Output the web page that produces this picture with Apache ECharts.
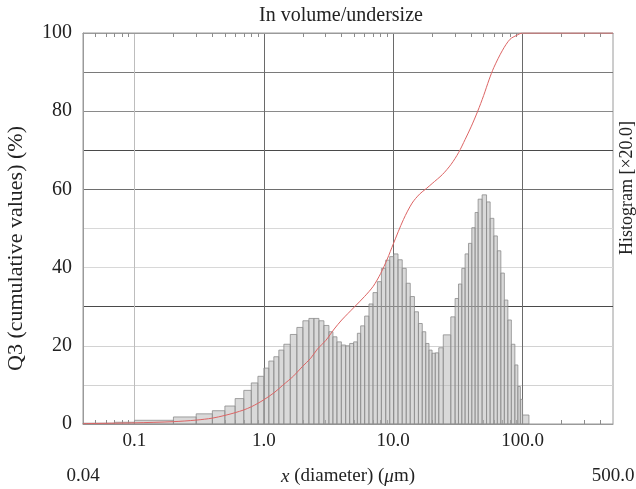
<!DOCTYPE html>
<html>
<head>
<meta charset="utf-8">
<script src="https://cdn.jsdelivr.net/npm/echarts@6/dist/echarts.min.js"></script>
<style>
    html, body { margin: 0; padding: 0; background: #fff; }
    #main { width: 636px; height: 489px; }
</style>
</head>
<body>
<div id="main"></div>
<script>
    // histogram bins (um) and heights (% on the Q3 scale)
    var binEdges = [0.04, 0.07, 0.1, 0.2, 0.3, 0.4, 0.5, 0.6, 0.7, 0.8, 0.9, 1.0,
        1.093, 1.195, 1.306, 1.428, 1.601, 1.8, 2.004, 2.23, 2.438, 2.666, 2.913, 3.185, 3.42, 3.673,
        3.973, 4.29, 4.607, 4.947, 5.284, 5.605, 6.017, 6.497, 6.979, 7.546, 8.103, 8.75, 9.395, 10.09,
        10.89, 11.74, 12.61, 13.54, 14.59, 15.67, 16.77, 17.85, 18.9, 19.97, 21.14, 22.5, 24.38, 27.87,
        30.09, 31.96, 33.9, 35.95, 38.19, 40.52, 42.97, 45.33, 48.68, 52.65, 56.14, 59.97, 63.82, 67.93,
        72.3, 76.95, 81.9, 87.18, 91.95, 96.16, 100, 112];
    var binHeights = [0.2, 0.45, 0.95, 1.8, 2.6, 3.4, 4.6, 6.5, 8.6, 10.5, 12.2,
        14.3, 16.1, 17.2, 18.9, 20.4, 22.9, 24.7, 26.4, 27.0, 27.0, 26.4, 25.2, 23.6, 22.3,
        21.0, 20.2, 20.0, 20.6, 21.0, 23.2, 25.1, 27.6, 30.7, 33.6, 36.4, 39.8, 41.9, 42.8,
        43.5, 42.0, 39.8, 36.0, 32.6, 28.7, 25.7, 23.6, 20.6, 18.9, 18.1, 18.2, 19.5, 22.8,
        27.4, 32.1, 35.8, 39.8, 43.5, 46.2, 50.2, 54.1, 57.5, 58.6, 56.8, 52.6, 48.1, 44.3,
        38.6, 31.7, 26.6, 20.4, 15.1, 9.6, 6.3, 2.3];

    // cumulative undersize curve
    var cumX = [0.04, 0.1, 0.2, 0.3, 0.4, 0.5, 0.6, 0.7, 0.8, 0.9, 1.0, 1.2, 1.4, 1.7, 2.0, 2.3, 2.6,
        3.0, 3.5, 4.0, 5.0, 6.0, 7.0, 8.0, 9.0, 10, 12, 14, 16, 18, 20, 24, 28, 32, 36, 40, 45,
        50, 55, 60, 70, 80, 90, 100, 500];
    var cumY = [0.1, 0.3, 0.6, 1.0, 1.5, 2.2, 2.9, 3.6, 4.4, 5.3, 6.2, 8.0, 9.9, 12.3, 14.8, 16.8, 19.2,
        21.3, 24.3, 26.6, 29.9, 32.6, 35.2, 38.5, 42.2, 46.0, 52.3, 56.5, 58.8, 60.2, 61.5, 63.8, 66.4,
        69.4, 72.8, 76.0, 80.0, 84.0, 88.0, 91.2, 95.6, 98.4, 99.4, 100, 100];

    // axis ticks
    var majorTicks = [0.1, 1, 10, 100];
    var minorTicks = [0.05, 0.06, 0.07, 0.08, 0.09, 0.2, 0.3, 0.4, 0.5, 0.6, 0.7, 0.8, 0.9,
        2, 3, 4, 5, 6, 7, 8, 9, 20, 30, 40, 50, 60, 70, 80, 90, 200, 300, 400];
    var endTicks = [0.04, 500];

    var font = 'Liberation Serif';
    var textColor = '#222';

    var binData = [];
    for (var i = 0; i < binHeights.length; i++) {
        binData.push([binEdges[i], binEdges[i + 1], binHeights[i]]);
    }
    var cumData = cumX.map(function (x, i) { return [x, cumY[i]]; });

    function fmtSize(v) {
        return v >= 1 ? v.toFixed(1) : String(+v.toPrecision(2));
    }

    function renderBin(params, api) {
        var p0 = api.coord([api.value(0), api.value(2)]);
        var p1 = api.coord([api.value(1), 0]);
        return {
            type: 'rect',
            shape: { x: p0[0], y: p0[1], width: p1[0] - p0[0], height: p1[1] - p0[1] },
            style: { fill: 'rgba(185,185,185,0.55)', stroke: '#8c8c8c', lineWidth: 0.8 }
        };
    }

    var chart = echarts.init(document.getElementById('main'));
    var option = {
        animation: false,
        backgroundColor: '#fff',
        textStyle: { fontFamily: font },
        title: {
            text: 'In volume/undersize',
            left: 336,
            textAlign: 'center',
            top: 1,
            textStyle: { fontFamily: font, fontSize: 20, fontWeight: 'normal', color: textColor }
        },
        grid: {
            left: 83, right: 23, top: 33, bottom: 65, outerBoundsMode: 'none',
            show: true, borderColor: '#9a9a9a', borderWidth: 1
        },
        xAxis: [
            {
                // labels + vertical grid lines
                type: 'log', logBase: 10, min: 0.04, max: 500, position: 'bottom',
                axisLine: { show: true, lineStyle: { color: '#9a9a9a' } },
                axisTick: { show: false, customValues: majorTicks },
                axisLabel: {
                    customValues: majorTicks, formatter: fmtSize, margin: 8,
                    fontFamily: font, fontSize: 19, color: textColor
                },
                splitLine: { show: true, lineStyle: { color: ['#bdbdbd', '#6a6a6a', '#6a6a6a', '#6a6a6a'], width: 1 } },
                name: '{i|x} (diameter) ({i|\u03bc}m)',
                nameLocation: 'middle',
                nameGap: 43,
                nameTextStyle: {
                    fontFamily: font, fontSize: 19, color: textColor,
                    rich: { i: { fontFamily: font, fontSize: 19, fontStyle: 'italic', color: textColor } }
                }
            },
            {
                // minor ticks along the bottom
                type: 'log', logBase: 10, min: 0.04, max: 500, position: 'bottom',
                axisLine: { show: false },
                axisTick: { show: true, inside: true, length: 4, customValues: minorTicks, lineStyle: { color: '#8c8c8c' } },
                axisLabel: { show: false },
                splitLine: { show: false }
            },
            {
                // minor ticks along the top
                type: 'log', logBase: 10, min: 0.04, max: 500, position: 'top',
                axisLine: { show: true, lineStyle: { color: '#9a9a9a' } },
                axisTick: { show: true, inside: true, length: 4, customValues: minorTicks, lineStyle: { color: '#8c8c8c' } },
                axisLabel: { show: false },
                splitLine: { show: false }
            },
            {
                // range end labels on the lower row
                type: 'log', logBase: 10, min: 0.04, max: 500, position: 'bottom', offset: 35,
                axisLine: { show: false },
                axisTick: { show: false, customValues: endTicks },
                axisLabel: {
                    customValues: endTicks, formatter: fmtSize, margin: 8,
                    fontFamily: font, fontSize: 19, color: textColor
                },
                splitLine: { show: false }
            }
        ],
        yAxis: [
            {
                type: 'value', min: 0, max: 100, interval: 10,
                axisLine: { show: true, lineStyle: { color: '#9a9a9a' } },
                axisTick: { show: false },
                axisLabel: {
                    formatter: function (v) { return v % 20 === 0 ? String(v) : ''; },
                    margin: 11, fontFamily: font, fontSize: 20, color: textColor
                },
                splitLine: {
                    show: true,
                    lineStyle: {
                        color: ['#9a9a9a', '#d2d2d2', '#d2d2d2', '#4a4a4a', '#d8d8d8', '#d8d8d8',
                            '#6e6e6e', '#4a4a4a', '#8a8a8a', '#7a7a7a', '#9a9a9a'],
                        width: 1
                    }
                },
                name: 'Q3 (cumulative values) (%)',
                nameLocation: 'middle',
                nameGap: 56,
                nameTextStyle: { fontFamily: font, fontSize: 22, color: textColor, padding: [0, 40, 0, 0] }
            }
        ],
        graphic: [{
            type: 'text',
            x: 627, y: 188,
            rotation: Math.PI / 2,
            style: {
                text: 'Histogram [\u00d720.0]',
                font: '18px "Liberation Serif"',
                fill: textColor,
                align: 'center',
                verticalAlign: 'middle'
            }
        }],
        series: [
            {
                type: 'custom',
                xAxisIndex: 0,
                yAxisIndex: 0,
                renderItem: renderBin,
                encode: { x: [0, 1], y: 2 },
                data: binData,
                z: 2
            },
            {
                type: 'line',
                xAxisIndex: 0,
                yAxisIndex: 0,
                data: cumData,
                smooth: 0.3,
                showSymbol: false,
                lineStyle: { color: '#dc6464', width: 1 },
                z: 3
            }
        ]
    };
    chart.setOption(option);
</script>
</body>
</html>
